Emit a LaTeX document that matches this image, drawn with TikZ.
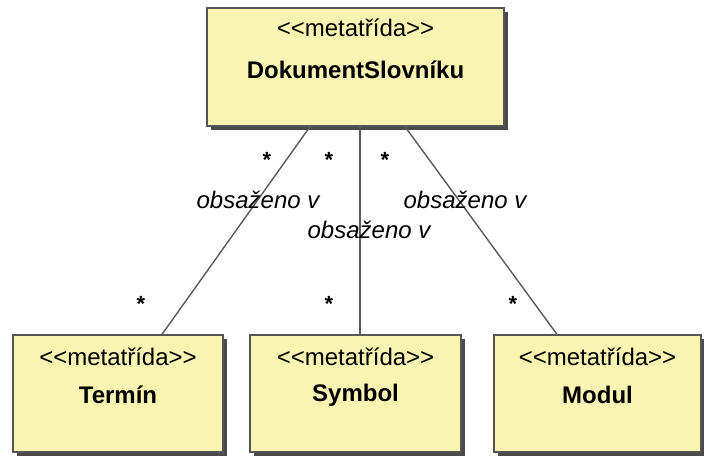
\documentclass[tikz,border=0pt]{standalone}
\usepackage{fontspec}
\setmainfont{Liberation Sans}
\usetikzlibrary{shadows,calc}
\definecolor{boxfill}{RGB}{249,244,178}
\definecolor{boxline}{RGB}{85,85,85}
\definecolor{conn}{RGB}{90,90,90}
\newcommand{\stereotxt}{<\kern0pt<metatřída>\kern0pt>}
\tikzset{
  classbox/.style={draw=boxline, line width=1.3pt, fill=boxfill, inner sep=0pt,
    drop shadow={shadow xshift=4pt, shadow yshift=-4pt, fill=black!75, opacity=0.95}},
  stereo/.style={inner sep=0pt, font=\fontsize{24}{24}\selectfont},
  cname/.style={inner sep=0pt, font=\fontsize{24}{24}\selectfont\bfseries},
  rolelabel/.style={inner sep=0pt, font=\fontsize{24}{24}\selectfont\itshape},
  mult/.style={inner sep=0pt, anchor=base, font=\fontsize{22}{22}\selectfont\bfseries},
  assoc/.style={draw=conn, line width=1.4pt},
}
\begin{document}
\begin{tikzpicture}[x=1pt,y=-1pt]
\useasboundingbox (0,0) rectangle (704,456);
% boxes
\node[classbox, minimum width=297pt, minimum height=118pt] (dok) at (355.5,67) {};
\node[classbox, minimum width=210pt, minimum height=117pt] (termin) at (118,393.5) {};
\node[classbox, minimum width=211pt, minimum height=117pt] (symbol) at (355.5,393.5) {};
\node[classbox, minimum width=207pt, minimum height=117pt] (modul) at (597.5,393.5) {};
% texts
\node[stereo] (dokS) at (355.5,28) {\stereotxt};
\node[cname] (dokN) at (355.5,70) {DokumentSlovníku};
\node[stereo] (terS) at (118,356.5) {\stereotxt};
\node[cname] (terN) at (118,395) {Termín};
\node[stereo] (symS) at (355.5,356.5) {\stereotxt};
\node[cname] (symN) at (355.5,395) {Symbol};
\node[stereo] (modS) at (597.5,356.5) {\stereotxt};
\node[cname] (modN) at (597.5,395) {Modul};
% connectors
\draw[assoc] ($(dok.south)+(-45.5,0)$) -- ($(termin.north)+(44,0)$);
\draw[assoc] ($(dok.south)+(4.5,0)$) -- ($(symbol.north)+(4.5,0)$);
\draw[assoc] ($(dok.south)+(49.5,0)$) -- ($(modul.north)+(-40.5,0)$);
% role labels
\node[rolelabel] (l1) at (258,200) {obsaženo v};
\node[rolelabel] (l2) at (369,230) {obsaženo v};
\node[rolelabel] (l3) at (465,200) {obsaženo v};
% multiplicities
\node[mult] (m1) at (267,167) {*};
\node[mult] (m2) at (329,167) {*};
\node[mult] (m3) at (385,167) {*};
\node[mult] (m4) at (141,311) {*};
\node[mult] (m5) at (329,311) {*};
\node[mult] (m6) at (513,311) {*};
\end{tikzpicture}
\end{document}
